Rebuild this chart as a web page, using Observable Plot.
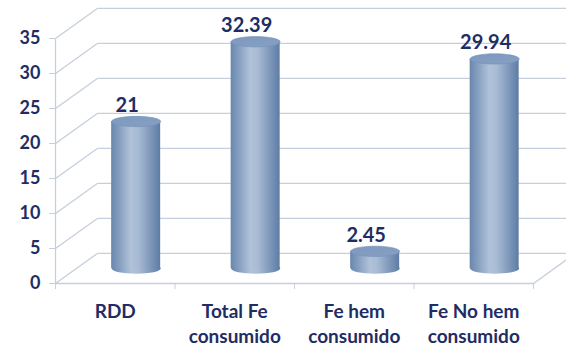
<!DOCTYPE html>
<html><head><meta charset="utf-8">
<script src="https://cdn.jsdelivr.net/npm/d3@7"></script>
<script src="https://cdn.jsdelivr.net/npm/@observablehq/plot@0.6"></script>
<style>body{margin:0;background:#fff;}</style>
</head><body><div id="chart"></div>
<script>
const categories = ["RDD", "Total Fe\nconsumido", "Fe hem\nconsumido", "Fe No hem\nconsumido"];
const values = [21, 32.39, 2.45, 29.94];
const valueLabels = ["21", "32.39", "2.45", "29.94"];
const yTicks = [0, 5, 10, 15, 20, 25, 30, 35];

// 3D depth of the box, expressed in scale units (x: category slots, y: value units)
const DEPTH_X = 0.35;
const DEPTH_Y = 4.29;
const BAR_HALF = 0.205;

const navy = "#1F2D63";
const grid = "#C6CFDC";

const bars = values.map((v, i) => ({v, label: valueLabels[i], xc: i + 0.5 + DEPTH_X / 2}));

const ellipse = {
  draw(ctx, size) {
    const rx = Math.sqrt(size / Math.PI), ry = rx * 0.21, k = 0.5523;
    ctx.moveTo(rx, 0);
    ctx.bezierCurveTo(rx, ry * k, rx * k, ry, 0, ry);
    ctx.bezierCurveTo(-rx * k, ry, -rx, ry * k, -rx, 0);
    ctx.bezierCurveTo(-rx, -ry * k, -rx * k, -ry, 0, -ry);
    ctx.bezierCurveTo(rx * k, -ry, rx, -ry * k, rx, 0);
    ctx.closePath();
  }
};

const defs = () => {
  const d = d3.create("svg:defs");
  const g = d.append("linearGradient").attr("id", "body").attr("x1", "0").attr("x2", "1").attr("y1", "0").attr("y2", "0");
  [["0%", "#6886AE"], ["40%", "#B0C2D9"], ["55%", "#A8BBD4"], ["100%", "#5D7CA5"]].forEach(([o, c]) => g.append("stop").attr("offset", o).attr("stop-color", c));
  const c = d.append("linearGradient").attr("id", "cap").attr("x1", "0").attr("x2", "1").attr("y1", "0").attr("y2", "1");
  [["0%", "#7E99BE"], ["100%", "#86A0C3"]].forEach(([o, col]) => c.append("stop").attr("offset", o).attr("stop-color", col));
  return d.node();
};

const chart = Plot.plot({
  width: 566,
  height: 350,
  marginLeft: 55,
  marginRight: 33,
  marginTop: 38,
  marginBottom: 67,
  style: {fontFamily: "Lato, sans-serif", background: "#fff"},
  x: {domain: [0, 4], axis: null},
  y: {domain: [0, 35], axis: null},
  marks: [
    defs,
    // back wall gridlines
    Plot.link(yTicks, {x1: DEPTH_X, x2: 5, y1: d => d + DEPTH_Y, y2: d => d + DEPTH_Y, stroke: grid, strokeWidth: 1.3}),
    // side wall diagonals
    Plot.link(yTicks, {x1: 0, x2: DEPTH_X, y1: d => d, y2: d => d + DEPTH_Y, stroke: grid, strokeWidth: 1.3}),
    // floor front edge and right edge
    Plot.link([0], {x1: 0, x2: 4, y1: 0, y2: 0, stroke: grid, strokeWidth: 1.3}),
    Plot.link([0], {x1: 4, x2: 4 + DEPTH_X, y1: 0, y2: DEPTH_Y, stroke: grid, strokeWidth: 1.3}),
    // front vertical axis line
    Plot.link([0], {x1: 0, x2: 0, y1: 0, y2: 35, stroke: grid, strokeWidth: 1.3}),
    // cylinders
    Plot.dot(bars, {x: "xc", y: DEPTH_Y / 2, r: 24.5, symbol: ellipse, fill: "url(#body)", stroke: "none"}),
    Plot.rect(bars, {x1: d => d.xc - BAR_HALF, x2: d => d.xc + BAR_HALF, y1: DEPTH_Y / 2, y2: d => d.v + DEPTH_Y / 2, fill: "url(#body)"}),
    Plot.dot(bars, {x: "xc", y: d => d.v + DEPTH_Y / 2, r: 24.5, symbol: ellipse, fill: "url(#cap)", stroke: "#7391B8", strokeWidth: 0.6}),
    // value labels
    Plot.text(bars, {x: "xc", y: d => d.v + DEPTH_Y / 2, text: "label", dx: -9, dy: -16, fontSize: 20, fontWeight: "bold", fill: navy}),
    // axes
    Plot.axisY({ticks: yTicks, tickSize: 6, tickPadding: 9, stroke: grid, fill: navy, fontSize: 18, fontWeight: "bold", label: null}),
    Plot.axisX({ticks: [0, 1, 2, 3, 4], tickSize: 6, stroke: grid, fill: "none", label: null}),
    Plot.axisX({ticks: [0.5, 1.5, 2.5, 3.5], tickSize: 0, tickPadding: 17, tickFormat: d => categories[Math.floor(d)], fill: navy, fontSize: 19, fontWeight: "bold", lineHeight: 1.32, label: null})
  ]
});
document.getElementById("chart").appendChild(chart);
</script>
</body></html>
